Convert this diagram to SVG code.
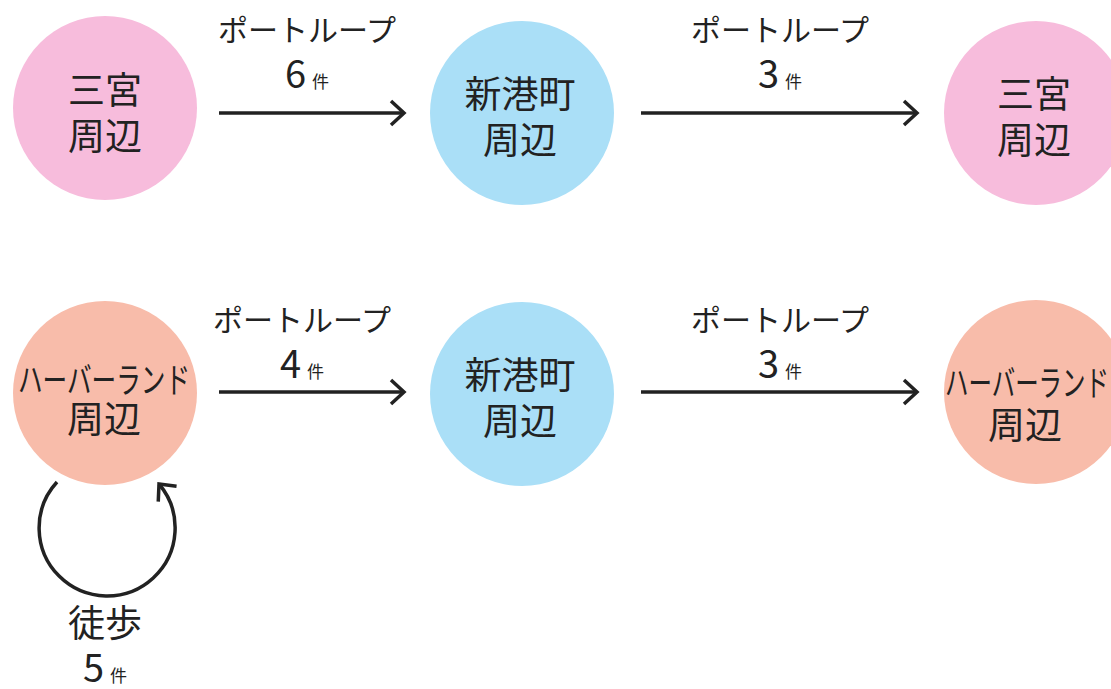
<svg xmlns="http://www.w3.org/2000/svg" width="1111" height="689" viewBox="0 0 1111 689">
<style>
text{font-family:"Noto Sans CJK JP","Noto Sans",sans-serif;fill:#222;text-anchor:middle}
.n{font-size:37px}
.h{font-size:35px}
.l{font-size:30px}
.num{font-size:38px}
.k{font-size:17px}
.c{fill:none;stroke:#222;stroke-width:3.5}
.pink{fill:#f7bcdc}
.blue{fill:#aadff7}
.salmon{fill:#f8bcaa}
</style>
<defs>
<marker id="ah" viewBox="-16 -15 20 30" refX="0" refY="0" markerWidth="20" markerHeight="30" markerUnits="userSpaceOnUse" orient="auto">
<path d="M-13,-12 L0,0 L-13,12" fill="none" stroke="#222" stroke-width="3.5"/>
</marker>
</defs>
<rect width="1111" height="689" fill="#fff"/>

<g id="node-sannomiya-1">
<circle class="pink" cx="105" cy="108" r="92"/>
<text class="n" x="105" y="104">三宮</text>
<text class="n" x="105" y="150">周辺</text>
</g>
<g id="node-shinkocho-1">
<circle class="blue" cx="522" cy="113" r="92"/>
<text class="n" x="520" y="108">新港町</text>
<text class="n" x="520" y="154">周辺</text>
</g>
<g id="node-sannomiya-2">
<circle class="pink" cx="1036" cy="113" r="92"/>
<text class="n" x="1034" y="108">三宮</text>
<text class="n" x="1034" y="154">周辺</text>
</g>
<g id="node-harborland-1">
<circle class="salmon" cx="105" cy="393" r="92"/>
<text class="h" x="104" y="393" textLength="172" lengthAdjust="spacingAndGlyphs">ハーバーランド</text>
<text class="n" x="104" y="433">周辺</text>
</g>
<g id="node-shinkocho-2">
<circle class="blue" cx="522" cy="394" r="92"/>
<text class="n" x="520" y="389">新港町</text>
<text class="n" x="520" y="435">周辺</text>
</g>
<g id="node-harborland-2">
<circle class="salmon" cx="1036" cy="392" r="92"/>
<text class="h" x="1027" y="396" textLength="164" lengthAdjust="spacingAndGlyphs">ハーバーランド</text>
<text class="n" x="1025" y="439">周辺</text>
</g>

<g id="connectors">
<line class="c" x1="219" y1="113" x2="404" y2="113" marker-end="url(#ah)"/>
<line class="c" x1="641" y1="113" x2="917" y2="113" marker-end="url(#ah)"/>
<line class="c" x1="219" y1="392" x2="404" y2="392" marker-end="url(#ah)"/>
<line class="c" x1="641" y1="392" x2="917" y2="392" marker-end="url(#ah)"/>
<path class="c" d="M57,482 A68,68 0 1 0 159,484" marker-end="url(#ah)"/>

<text class="l" x="307" y="41">ポートループ</text>
<text x="307" y="88"><tspan class="num">6</tspan><tspan class="k" dx="6">件</tspan></text>
<text class="l" x="780" y="41">ポートループ</text>
<text x="780" y="88"><tspan class="num">3</tspan><tspan class="k" dx="6">件</tspan></text>
<text class="l" x="302" y="331">ポートループ</text>
<text x="302" y="378"><tspan class="num">4</tspan><tspan class="k" dx="6">件</tspan></text>
<text class="l" x="780" y="331">ポートループ</text>
<text x="780" y="378"><tspan class="num">3</tspan><tspan class="k" dx="6">件</tspan></text>
<text class="n" x="105" y="637">徒歩</text>
<text x="105" y="682"><tspan class="num">5</tspan><tspan class="k" dx="6">件</tspan></text>
</g>
</svg>
